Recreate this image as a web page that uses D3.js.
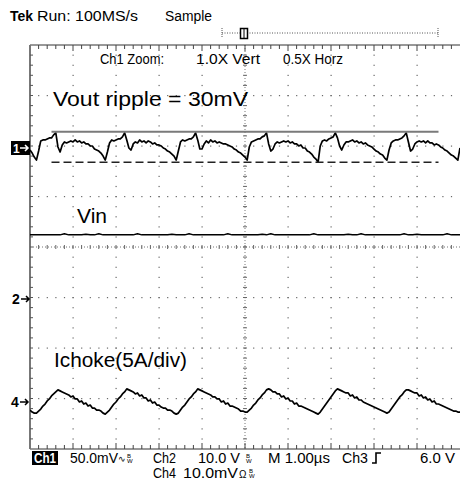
<!DOCTYPE html>
<html>
<head>
<meta charset="utf-8">
<script src="https://cdn.jsdelivr.net/npm/d3@7"></script>
<style>
  body { margin: 0; background: #fff; }
  text { font-family: "Liberation Sans", Arial, sans-serif; }
</style>
</head>
<body>
<svg id="scope"></svg>
<script>
// scope settings
var timePerDiv = 2,        // µs/div (M 1.00µs with 0.5X horizontal zoom)
    ch1PerDiv = 50,        // mV/div
    ch2PerDiv = 10,        // V/div
    ch4PerDiv = 5,         // A/div (Ichoke probe)
    sampleStep = 0.1,      // µs between samples, Ch1 and Ch4
    vinStep = 0.2;         // µs between samples, Ch2

// Ch1: Vout ripple, mV from the Ch1 ground marker
var voutRipple = [
  -2,-5,-9,-12,-3,7,8,8,9,10,
  10,13,15,1,-4,3,6,5,6,7,
  6,8,6,7,5,6,4,4,2,2,
  -1,-2,-3,-5,-8,-12,-4,5,8,7,
  8,9,9,11,15,8,0,-2,4,6,
  5,8,6,7,5,7,6,4,5,3,
  3,2,0,-1,-3,-4,-6,-8,-12,-3,
  6,8,7,8,9,9,11,15,8,-1,
  -1,4,7,5,8,6,7,5,6,5,
  4,4,3,2,1,-1,-2,-4,-5,-7,
  -9,-12,1,6,7,8,9,9,11,12,
  15,4,-3,-1,4,6,5,6,7,6,
  7,5,6,4,4,2,3,0,0,-3,
  -4,-6,-9,-11,-14,2,7,8,7,9,
  10,11,15,10,2,-2,3,6,6,7,
  8,6,7,5,6,4,5,3,2,1,
  -1,-3,-4,-6,-7,-10,-12,-2,5,7,
  8,8,9,10,12,15,6,-3,-1,4,
  6,7,6,7,5,7,5,5,3,4,
  3,1,0,-2,-3,-5,-7,-8,-10,-12,
  0
];

// Ch2: Vin, volts
var vin = [
  12.7,12.7,12.7,12.7,12.7,12.7,12.7,12.7,12.9,12.7,
  12.7,12.7,12.7,12.8,12.7,12.7,12.9,12.7,12.7,12.7,
  12.7,12.7,12.7,12.7,12.7,12.9,12.7,12.7,12.7,12.7,
  12.7,12.7,12.7,12.8,12.7,12.7,12.7,12.9,12.7,12.7,
  12.7,12.7,12.7,12.7,12.7,12.7,12.9,12.7,12.7,12.7,
  12.7,12.7,12.7,12.7,12.8,12.7,12.9,12.7,12.7,12.7,
  12.7,12.7,12.7,12.7,12.7,12.7,12.9,12.7,12.7,12.7,
  12.7,12.7,12.7,12.7,12.8,12.7,12.7,12.9,12.7,12.7,
  12.7,12.7,12.7,12.7,12.7,12.7,12.7,12.9,12.7,12.7,
  12.8,12.7,12.7,12.7,12.7,12.7,12.7,12.9,12.7,12.7,
  12.7
];

// Ch4: choke current, amps from the Ch4 ground marker
var ichoke = [
  -0.8,-1.0,-1.1,-1.1,-0.9,-0.7,-0.4,-0.2,0.1,0.3,
  0.6,0.8,1.0,1.2,1.1,1.0,0.9,0.8,0.7,0.5,
  0.6,0.3,0.3,0.0,0.1,-0.2,-0.1,-0.4,-0.3,-0.6,
  -0.6,-0.8,-0.8,-0.9,-1.1,-1.2,-1.0,-0.8,-0.5,-0.2,
  0.0,0.3,0.5,0.8,1.0,1.3,1.2,1.1,1.0,0.8,
  0.9,0.6,0.7,0.4,0.4,0.1,0.2,-0.1,0.0,-0.3,
  -0.3,-0.5,-0.6,-0.6,-0.8,-0.8,-0.9,-1.1,-1.2,-1.1,
  -0.8,-0.5,-0.3,0.0,0.3,0.5,0.8,1.0,1.3,1.2,
  1.1,1.0,0.9,0.8,0.7,0.5,0.5,0.3,0.3,0.0,
  0.1,-0.2,-0.1,-0.4,-0.4,-0.5,-0.6,-0.7,-0.9,-0.9,
  -1.0,-1.0,-0.8,-0.6,-0.3,-0.1,0.2,0.4,0.7,0.9,
  1.2,1.3,1.2,1.0,1.0,0.8,0.8,0.5,0.6,0.3,
  0.4,0.1,0.1,-0.2,-0.1,-0.4,-0.4,-0.5,-0.6,-0.7,
  -0.8,-0.9,-1.0,-1.1,-1.2,-1.0,-0.7,-0.4,-0.1,0.2,
  0.5,0.8,1.1,1.3,1.2,1.1,1.0,0.9,0.9,0.6,
  0.7,0.4,0.5,0.2,0.2,0.0,-0.1,-0.2,-0.3,-0.4,
  -0.5,-0.6,-0.7,-0.8,-0.9,-1.0,-1.1,-1.0,-0.7,-0.4,
  -0.1,0.2,0.5,0.7,1.0,1.2,1.2,1.1,1.0,0.9,
  0.9,0.6,0.7,0.4,0.5,0.2,0.3,0.0,0.1,-0.2,
  -0.2,-0.3,-0.4,-0.5,-0.6,-0.7,-0.8,-0.9,-0.9,-1.0,
  -1.0
];

// ripple cursors (mV) and the time span they cover (µs)
var rippleCursors = [16, -14],
    cursorSpan = [1.0, 19.0];

// text
var statusLine = ["Tek", "Run: 100MS/s", "Sample"],
    zoomLine = ["Ch1 Zoom:", "1.0X Vert", "0.5X Horz"],
    notes = ["Vout ripple = 30mV", "Vin", "Ichoke(5A/div)"],
    readout1 = ["Ch1", "50.0mV", "Ch2", "10.0 V", "M 1.00\u00b5s", "Ch3", "6.0 V"],
    readout2 = ["Ch4", "10.0mV"];

var width = 460, height = 480,
    plot = {left: 30, right: 460, top: 45, bottom: 449},
    divPx = (plot.bottom - plot.top) / 8,
    ground = {ch1: 148, ch2: 299, ch4: 402};

var svg = d3.select("#scope")
    .attr("width", width)
    .attr("height", height);

svg.append("rect").attr("width", width).attr("height", height).attr("fill", "#fff");

var x = d3.scaleLinear().domain([0, 10 * timePerDiv]).range([plot.left, plot.right]);
var gx = d3.scaleLinear().domain([0, 10]).range([plot.left, plot.right]),
    gy = d3.scaleLinear().domain([0, 8]).range([plot.top, plot.bottom]);

function chScale(g, perDiv) {
  return d3.scaleLinear().domain([-4 * perDiv, 4 * perDiv]).range([g + 4 * divPx, g - 4 * divPx]);
}
var y1 = chScale(ground.ch1, ch1PerDiv),
    y2 = chScale(ground.ch2, ch2PerDiv),
    y4 = chScale(ground.ch4, ch4PerDiv);

// graticule
var grid = svg.append("g");
var minorX = d3.range(1, 50), minorY = d3.range(1, 40);

[1, 2, 3, 4, 6, 7, 8, 9].forEach(function(k) {
  grid.selectAll(null).data(minorY).enter().append("rect")
    .attr("x", gx(k) - 0.5).attr("y", function(j) { return gy(j / 5) - 0.5; })
    .attr("width", 1.2).attr("height", 1.2).attr("fill", "#6a6a6a");
});
[1, 2, 3, 5, 6, 7].forEach(function(m) {
  grid.selectAll(null).data(minorX).enter().append("rect")
    .attr("x", function(i) { return gx(i / 5) - 0.5; }).attr("y", gy(m) - 0.5)
    .attr("width", 1.2).attr("height", 1.2).attr("fill", "#6a6a6a");
});

// centre cross with minor ticks
grid.append("line")
    .attr("x1", gx(5)).attr("x2", gx(5)).attr("y1", plot.top).attr("y2", plot.bottom)
    .attr("stroke", "#777").attr("stroke-dasharray", "1,2");
grid.append("line")
    .attr("x1", plot.left).attr("x2", plot.right).attr("y1", gy(4)).attr("y2", gy(4))
    .attr("stroke", "#777").attr("stroke-dasharray", "1,2");
grid.selectAll(null).data(minorY).enter().append("line")
    .attr("x1", gx(5) - 2).attr("x2", gx(5) + 2)
    .attr("y1", function(j) { return gy(j / 5); }).attr("y2", function(j) { return gy(j / 5); })
    .attr("stroke", "#666");
grid.selectAll(null).data(minorX).enter().append("line")
    .attr("y1", gy(4) - 2).attr("y2", gy(4) + 2)
    .attr("x1", function(i) { return gx(i / 5); }).attr("x2", function(i) { return gx(i / 5); })
    .attr("stroke", "#666");

// frame with inward ticks
grid.append("line").attr("x1", plot.left).attr("x2", plot.right).attr("y1", plot.top).attr("y2", plot.top)
    .attr("stroke", "#333");
grid.append("line").attr("x1", plot.left).attr("x2", plot.right).attr("y1", plot.bottom).attr("y2", plot.bottom)
    .attr("stroke", "#333");
grid.append("line").attr("x1", plot.left).attr("x2", plot.left).attr("y1", plot.top).attr("y2", plot.bottom)
    .attr("stroke", "#777").attr("stroke-width", 2);
grid.selectAll(null).data(minorX).enter().append("line")
    .attr("x1", function(i) { return gx(i / 5); }).attr("x2", function(i) { return gx(i / 5); })
    .attr("y1", plot.top).attr("y2", function(i) { return plot.top + (i % 5 ? 4 : 6); })
    .attr("stroke", "#444");
grid.selectAll(null).data(minorX).enter().append("line")
    .attr("x1", function(i) { return gx(i / 5); }).attr("x2", function(i) { return gx(i / 5); })
    .attr("y1", plot.bottom).attr("y2", function(i) { return plot.bottom - (i % 5 ? 4 : 6); })
    .attr("stroke", "#444");
grid.selectAll(null).data(minorY).enter().append("line")
    .attr("x1", plot.left).attr("x2", plot.left + 3)
    .attr("y1", function(j) { return gy(j / 5); }).attr("y2", function(j) { return gy(j / 5); })
    .attr("stroke", "#555");

// traces
svg.append("clipPath").attr("id", "screen").append("rect")
    .attr("x", plot.left).attr("y", plot.top)
    .attr("width", plot.right - plot.left).attr("height", plot.bottom - plot.top);

var traces = svg.append("g").attr("clip-path", "url(#screen)");

function trace(values, step, yScale, w) {
  traces.append("path")
      .datum(values)
      .attr("fill", "none")
      .attr("stroke", "#000")
      .attr("stroke-width", w)
      .attr("stroke-linejoin", "round")
      .attr("d", d3.line()
        .x(function(d, i) { return x(i * step); })
        .y(function(d) { return yScale(d); }));
}
trace(voutRipple, sampleStep, y1, 1.7);
trace(vin, vinStep, y2, 1.5);
trace(ichoke, sampleStep, y4, 1.7);

// ripple cursors
svg.append("line")
    .attr("x1", x(cursorSpan[0])).attr("x2", x(cursorSpan[1]))
    .attr("y1", y1(rippleCursors[0])).attr("y2", y1(rippleCursors[0]))
    .attr("stroke", "#7a7a7a").attr("stroke-width", 2);
svg.append("line")
    .attr("x1", x(cursorSpan[0])).attr("x2", x(cursorSpan[1]))
    .attr("y1", y1(rippleCursors[1])).attr("y2", y1(rippleCursors[1]))
    .attr("stroke", "#222").attr("stroke-width", 1.5).attr("stroke-dasharray", "8,4");

// annotations
function label(t, px, py, size, len, opts) {
  var el = svg.append("text").attr("x", px).attr("y", py)
      .attr("font-size", size).attr("fill", (opts && opts.fill) || "#000")
      .text(t);
  if (len) el.attr("textLength", len).attr("lengthAdjust", "spacingAndGlyphs");
  if (opts && opts.bold) el.attr("font-weight", "bold");
  return el;
}
label(notes[0], 53, 106, 21, 195);
label(notes[1], 77, 223, 21, 30);
label(notes[2], 54, 367, 20, 133);

// channel ground markers
svg.append("rect").attr("x", 11).attr("y", y1(0) - 7).attr("width", 19).attr("height", 14).attr("fill", "#000");
label("1", 13, y1(0) + 5, 12, 0, {fill: "#fff", bold: true});
function arrow(px, py, col) {
  svg.append("path")
      .attr("d", "M" + px + "," + py + "h8m-3,-3l3,3l-3,3")
      .attr("fill", "none").attr("stroke", col).attr("stroke-width", 1.5);
}
arrow(20, y1(0), "#fff");
label("2", 12, y2(0) + 5, 14, 0, {bold: true});
arrow(21, y2(0), "#000");
label("4", 11, y4(0) + 5, 14, 0, {bold: true});
arrow(20, y4(0), "#000");

// header
label(statusLine[0], 10, 21, 14, 23, {bold: true});
label(statusLine[1], 37, 21, 14, 101);
label(statusLine[2], 165, 21, 14, 47);

// horizontal position bracket
svg.append("line").attr("x1", 222).attr("x2", 438).attr("y1", 33).attr("y2", 33)
    .attr("stroke", "#555").attr("stroke-dasharray", "1,1.5");
[222, 438].forEach(function(px) {
  svg.append("line").attr("x1", px).attr("x2", px).attr("y1", 28).attr("y2", 38)
      .attr("stroke", "#555").attr("stroke-dasharray", "1,1");
});
svg.append("rect").attr("x", 240.5).attr("y", 28.5).attr("width", 7).attr("height", 10)
    .attr("fill", "#fff").attr("stroke", "#000").attr("stroke-width", 1.5);
svg.append("line").attr("x1", 244).attr("x2", 244).attr("y1", 29).attr("y2", 38)
    .attr("stroke", "#000").attr("stroke-width", 1);

label(zoomLine[0], 100, 64, 14, 64);
label(zoomLine[1], 196, 64, 14, 64);
label(zoomLine[2], 283, 64, 14, 60);

// readout
function bw(px, py) {
  label("B", px, py - 4, 6, 0);
  label("W", px, py + 1, 6, 0);
}
svg.append("rect").attr("x", 32).attr("y", 451).attr("width", 26).attr("height", 14).attr("fill", "#000");
label(readout1[0], 34, 463, 14, 22, {fill: "#fff", bold: true});
label(readout1[1], 70, 463, 14, 48);
label("\u223f", 118, 462, 9, 0);
bw(127, 462);
label(readout1[2], 153, 463, 14, 23);
label(readout1[3], 198, 463, 14, 42);
bw(246, 462);
label(readout1[4], 268, 463, 14, 62);
label(readout1[5], 342, 463, 14, 26);
svg.append("path").attr("d", "M372,463h4v-10h5").attr("fill", "none")
    .attr("stroke", "#000").attr("stroke-width", 1.6);
label(readout1[6], 420, 463, 14, 35);
label(readout2[0], 153, 478, 14, 23);
label(readout2[1], 183, 478, 14, 55);
label("\u03a9", 239, 478, 10, 0);
bw(249, 477);
</script>
</body>
</html>
